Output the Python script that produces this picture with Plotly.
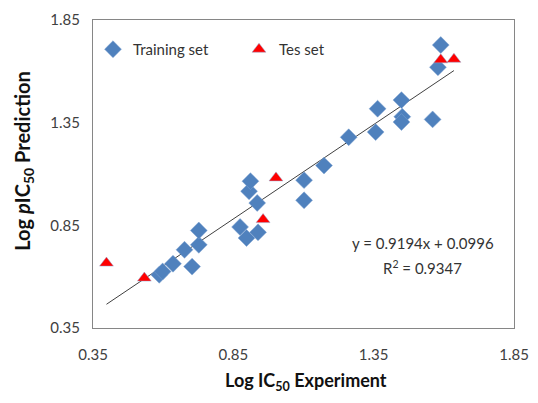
import plotly.graph_objects as go

train_x = [0.586, 0.598, 0.635, 0.676, 0.703, 0.727, 0.727, 0.874, 0.897, 0.938,
           0.935, 0.906, 0.911, 1.102, 1.102, 1.173, 1.261, 1.357, 1.364, 1.449,
           1.452, 1.449, 1.560, 1.579, 1.589]
train_y = [0.609, 0.625, 0.663, 0.731, 0.649, 0.755, 0.825, 0.842, 0.788, 0.816,
           0.959, 1.016, 1.065, 0.972, 1.070, 1.141, 1.279, 1.304, 1.418, 1.460,
           1.379, 1.353, 1.366, 1.620, 1.728]
test_x = [0.398, 0.533, 0.956, 1.002, 1.589, 1.636]
test_y = [0.666, 0.593, 0.878, 1.081, 1.656, 1.659]

slope = 0.9194
intercept = 0.0996
r2 = 0.9347
tick_vals = [0.35, 0.85, 1.35, 1.85]
tick_text = ["0.35", "0.85", "1.35", "1.85"]

all_x = train_x + test_x
x0, x1 = min(all_x), max(all_x)

fig = go.Figure()
fig.add_trace(go.Scatter(
    x=[x0, x1], y=[slope * x0 + intercept, slope * x1 + intercept],
    mode="lines", line=dict(color="#404040", width=1), showlegend=False))
fig.add_trace(go.Scatter(
    x=train_x, y=train_y, mode="markers", name="Training set",
    marker=dict(symbol="diamond", size=13, color="#4F81BD",
                line=dict(color="#7FA3D0", width=0.5))))
fig.add_trace(go.Scatter(
    x=test_x, y=test_y, mode="markers", name="Tes set",
    marker=dict(symbol="triangle-up", size=12, color="#FF0000",
                line=dict(color="#8FA8D0", width=0.5))))

font_fam = "Lato, Open Sans, sans-serif"

fig.add_annotation(x=1.525, y=0.765, text="y = 0.9194x + 0.0996", showarrow=False,
                   xanchor="center", yanchor="middle",
                   font=dict(family=font_fam, size=15, color="#333333"))
fig.add_annotation(x=1.525, y=0.643, text="R<sup>2</sup> = %.4f" % r2, showarrow=False,
                   xanchor="center", yanchor="middle",
                   font=dict(family=font_fam, size=15, color="#333333"))

fig.add_annotation(xref="paper", yref="paper", x=0.507, y=-0.174,
                   xanchor="center", yanchor="middle",
                   text="<b>Log IC<sub>50</sub> Experiment</b>", showarrow=False,
                   font=dict(family=font_fam, size=18, color="#111111"))
fig.add_annotation(xref="paper", yref="paper", x=-0.167, y=0.542, textangle=-90,
                   xanchor="center", yanchor="middle",
                   text="<b>Log <i>p</i>IC<sub>50</sub> Prediction</b>", showarrow=False,
                   font=dict(family=font_fam, size=20, color="#111111"))

axis_common = dict(range=[0.35, 1.85], tickvals=tick_vals, ticktext=tick_text,
                   showgrid=False, zeroline=False, showline=True, mirror=True,
                   linecolor="#868686", linewidth=1, ticks="", automargin=False,
                   tickfont=dict(family=font_fam, size=15, color="#404040"))

fig.update_xaxes(**axis_common, ticklabelstandoff=13)
fig.update_yaxes(**axis_common, ticklabelstandoff=9)

fig.update_layout(
    width=522, height=387,
    margin=dict(l=85, r=16, t=12, b=67),
    plot_bgcolor="white", paper_bgcolor="white",
    legend=dict(orientation="h", x=0, y=0.958, xanchor="left", yanchor="top",
                bgcolor="rgba(0,0,0,0)", entrywidth=101, entrywidthmode="pixels",
                font=dict(family=font_fam, size=15, color="#333333"),
                tracegroupgap=0, traceorder="normal"),
)

fig.write_html("out.html")
